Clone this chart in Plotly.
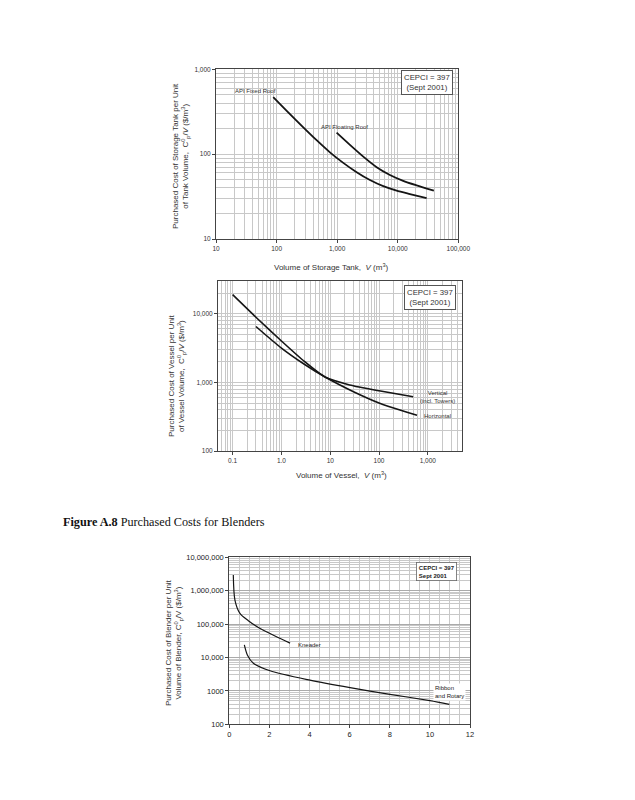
import math
import plotly.graph_objects as go

W, H = 635, 800

# ---------------- data ----------------
# Chart 1: storage tanks
fixed_roof_v = [88, 147, 276, 458, 760, 1262, 2100, 3475, 5770, 9590, 15900, 30000]
fixed_roof_c = [469, 324, 207, 146, 105, 78.9, 61.2, 49.5, 41.9, 37.1, 33.9, 30.4]
floating_roof_v = [979, 1626, 2700, 4490, 7430, 12300, 20500, 39500]
floating_roof_c = [179, 128.5, 93.4, 70.2, 56.8, 48.5, 42.9, 37.1]
tank_x_ticks = [10, 100, 1000, 10000, 100000]
tank_x_labels = ["10", "100", "1,000", "10,000", "100,000"]
tank_y_ticks = [10, 100, 1000]
tank_y_labels = ["10", "100", "1,000"]

# Chart 2: vessels
vertical_v = [0.1, 0.3, 1, 3, 8, 25, 100, 500]
vertical_c = [18970, 8900, 4010, 2000, 1186, 918, 755, 617]
horizontal_v = [0.3, 1, 3, 8, 30, 100, 300, 600]
horizontal_c = [6520, 3160, 1820, 1186, 730, 500, 385, 333]
vessel_x_ticks = [0.1, 1, 10, 100, 1000]
vessel_x_labels = ["0.1", "1.0", "10", "100", "1,000"]
vessel_y_ticks = [100, 1000, 10000]
vessel_y_labels = ["100", "1,000", "10,000"]

# Chart 3: blenders
kneader_v = [0.2, 0.28, 0.53, 0.95, 1.45, 2.28, 3.03]
kneader_c = [2950000, 525000, 210000, 126000, 79000, 44000, 27000]
ribbon_v = [0.75, 0.9, 1.2, 2.03, 4.02, 6.02, 8.01, 10.0, 10.97]
ribbon_c = [23700, 11900, 6700, 4000, 2100, 1250, 790, 510, 397]
blender_x_ticks = [0, 2, 4, 6, 8, 10, 12]
blender_y_ticks = [100, 1000, 10000, 100000, 1000000, 10000000]
blender_y_labels = ["100", "1000", "10,000", "100,000", "1,000,000", "10,000,000"]


def px_x(p):
    return p / W


def px_y(p):
    return 1 - p / H


def log_minor(e0, e1):
    return [m * 10 ** e for e in range(e0, e1) for m in range(2, 10)]


FONT = "Liberation Sans, Arial, sans-serif"
GRID = "#c8c8c8"

fig = go.Figure()


def curve(xs, ys, ax, width, smooth):
    fig.add_trace(go.Scatter(x=xs, y=ys, xaxis="x" + ax, yaxis="y" + ax, mode="lines",
                             hoverinfo="skip",
                             line=dict(color="#151515", width=width, shape="spline", smoothing=smooth)))


curve(fixed_roof_v, fixed_roof_c, "", 1.8, 0.7)
curve(floating_roof_v, floating_roof_c, "", 1.8, 0.7)
curve(vertical_v, vertical_c, "2", 1.6, 0.6)
curve(horizontal_v, horizontal_c, "2", 1.6, 0.7)
curve(kneader_v, kneader_c, "3", 1.2, 0.8)
curve(ribbon_v, ribbon_c, "3", 1.2, 0.8)

tickfont_small = dict(family=FONT, size=6.5, color="#333")
tickfont_c3 = dict(family=FONT, size=7.5, color="#222")

common = dict(showline=True, linecolor="#444", linewidth=1, mirror=True,
              gridcolor=GRID, gridwidth=0.8, zeroline=False, ticks="outside",
              ticklen=3, tickcolor="#444", showgrid=True, automargin=False)

fig.update_layout(
    width=W, height=H, margin=dict(l=0, r=0, t=0, b=0, autoexpand=False),
    paper_bgcolor="white", plot_bgcolor="white", showlegend=False,
    xaxis=dict(type="log", range=[1, 5], domain=[px_x(216), px_x(458.3)], anchor="y",
               tickvals=tank_x_ticks, ticktext=tank_x_labels, tickfont=tickfont_small,
               minor=dict(tickvals=log_minor(1, 5), showgrid=True, gridcolor=GRID, ticks=""),
               **common),
    yaxis=dict(type="log", range=[1, 3], domain=[px_y(239), px_y(69.3)], anchor="x",
               tickvals=tank_y_ticks, ticktext=tank_y_labels, tickfont=tickfont_small,
               minor=dict(tickvals=log_minor(1, 3), showgrid=True, gridcolor=GRID, ticks=""),
               **common),
    xaxis2=dict(type="log", range=[-1.3, 3.7], domain=[px_x(218), px_x(462)], anchor="y2",
                tickvals=vessel_x_ticks, ticktext=vessel_x_labels, tickfont=tickfont_small,
                minor=dict(tickvals=log_minor(-2, 4), showgrid=True, gridcolor=GRID, ticks=""),
                **common),
    yaxis2=dict(type="log", range=[2, math.log10(30000)], domain=[px_y(451), px_y(281)], anchor="x2",
                tickvals=vessel_y_ticks, ticktext=vessel_y_labels, tickfont=tickfont_small,
                minor=dict(tickvals=log_minor(2, 5), showgrid=True, gridcolor=GRID, ticks=""),
                **common),
    xaxis3=dict(range=[0, 12], domain=[px_x(229.3), px_x(470)], anchor="y3",
                tickvals=blender_x_ticks, tickfont=tickfont_c3,
                minor=dict(dtick=0.5, showgrid=True, gridcolor=GRID, ticks=""),
                **common),
    yaxis3=dict(type="log", range=[2, 7], domain=[px_y(724.3), px_y(557.3)], anchor="x3",
                tickvals=blender_y_ticks, ticktext=blender_y_labels, tickfont=tickfont_c3,
                minor=dict(tickvals=log_minor(2, 7), showgrid=True, gridcolor=GRID, ticks=""),
                **{**common, "gridcolor": "#aaaaaa", "gridwidth": 1.4}),
)


def note(x, y, text, size=6, color="#333", xanchor="center", align="center", **kw):
    d = dict(xref="paper", yref="paper", x=px_x(x), y=px_y(y), text=text, showarrow=False,
             xanchor=xanchor, yanchor="middle", align=align,
             font=dict(family=FONT, size=size, color=color))
    d.update(kw)
    return d


ann = []
# Chart 1 labels
ann.append(note(255, 90.7, "API Fixed Roof"))
ann.append(note(344.5, 126.7, "API Floating Roof"))
ann.append(note(426.5, 82.5, "CEPCI = 397<br>(Sept 2001)", size=7.8,
                bordercolor="#555", borderwidth=1, borderpad=2, bgcolor="white"))

# Chart 2 labels
ann.append(note(437, 397, "Vertical<br>(incl. Towers)"))
ann.append(note(437, 415.7, "Horizontal"))
ann.append(note(429.7, 297.5, "CEPCI = 397<br>(Sept 2001)", size=7.8,
                bordercolor="#555", borderwidth=1, borderpad=2, bgcolor="white"))

# Chart 3 labels
ann.append(note(296, 645, "Kneader", color="#222", xanchor="left"))
ann.append(note(433, 692, "Ribbon<br>and Rotary", color="#222", xanchor="left", align="left",
                bgcolor="white"))
ann.append(note(416, 571.5, "<b>CEPCI = 397<br>Sept 2001</b>", color="#222", xanchor="left",
                align="left", bordercolor="#666", borderwidth=0.8, borderpad=2, bgcolor="white"))

# Axis titles
ann.append(note(331.7, 266.7, "Volume of Storage Tank,  <i>V</i> (m<sup>3</sup>)", size=8))
ann.append(note(181, 156,
                "Purchased Cost of Storage Tank per Unit<br>of Tank Volume,  C<sup>0</sup><sub>p</sub>/<i>V</i> ($/m<sup>3</sup>)",
                size=8, textangle=-90))
ann.append(note(341, 475, "Volume of Vessel,  <i>V</i> (m<sup>3</sup>)", size=8))
ann.append(note(177, 376,
                "Purchased Cost of Vessel per Unit<br>of Vessel Volume,  C<sup>0</sup><sub>p</sub>/<i>V</i> ($/m<sup>3</sup>)",
                size=8, textangle=-90))
ann.append(note(174, 643,
                "Purchased Cost of Blender per Unit<br>Volume of Blender, C<sup>0</sup><sub>p</sub>/V ($/m<sup>3</sup>)",
                size=8, textangle=-90))

# Caption
ann.append(dict(xref="paper", yref="paper", x=px_x(61), y=px_y(522), xanchor="left", yanchor="middle",
                text="<b>Figure A.8</b> Purchased Costs for Blenders", showarrow=False,
                font=dict(family="Liberation Serif, Times New Roman, serif", size=12.2, color="#111")))

fig.update_layout(annotations=ann)

fig.write_html("out.html", config={"displayModeBar": False},
               post_script="document.body.style.margin='0px';document.body.style.overflow='hidden';")
